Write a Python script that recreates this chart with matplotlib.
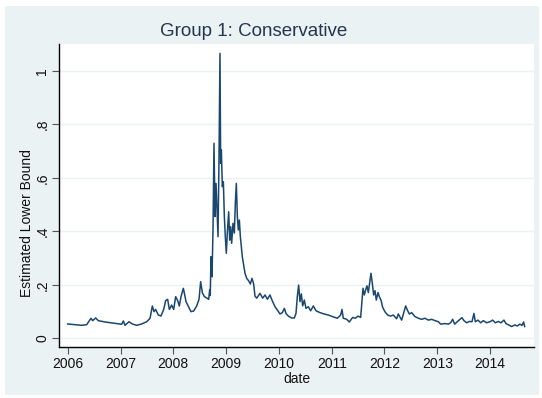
import matplotlib
matplotlib.use("Agg")
import matplotlib.pyplot as plt
from matplotlib.patches import Rectangle

plt.rcParams["font.family"] = ["Liberation Sans", "DejaVu Sans"]

# Estimated lower bound by date (decimal years)
dates = [
    2006.000, 2006.138, 2006.265, 2006.359, 2006.441, 2006.473, 2006.530, 2006.580,
    2006.706, 2006.896, 2007.022, 2007.054, 2007.085, 2007.161, 2007.224, 2007.306,
    2007.401, 2007.496, 2007.559, 2007.603, 2007.634, 2007.666, 2007.716, 2007.767,
    2007.818, 2007.855, 2007.893, 2007.925, 2007.969, 2008.007, 2008.045, 2008.083,
    2008.114, 2008.146, 2008.190, 2008.215, 2008.241, 2008.285, 2008.335, 2008.386,
    2008.443, 2008.487, 2008.518, 2008.550, 2008.588, 2008.632, 2008.670, 2008.689,
    2008.700, 2008.714, 2008.733, 2008.752, 2008.771, 2008.790, 2008.809, 2008.828,
    2008.847, 2008.866, 2008.884, 2008.897, 2008.910, 2008.929, 2008.948, 2008.967,
    2008.985, 2009.004, 2009.023, 2009.049, 2009.068, 2009.087, 2009.105, 2009.131,
    2009.156, 2009.175, 2009.194, 2009.213, 2009.232, 2009.251, 2009.270, 2009.288,
    2009.307, 2009.333, 2009.358, 2009.390, 2009.427, 2009.459, 2009.491, 2009.522,
    2009.547, 2009.579, 2009.642, 2009.693, 2009.737, 2009.781, 2009.831, 2009.869,
    2009.926, 2009.970, 2010.021, 2010.065, 2010.103, 2010.134, 2010.179, 2010.242,
    2010.292, 2010.324, 2010.349, 2010.374, 2010.400, 2010.425, 2010.450, 2010.482,
    2010.513, 2010.557, 2010.602, 2010.652, 2010.703, 2010.778, 2010.854, 2010.936,
    2011.018, 2011.107, 2011.170, 2011.195, 2011.220, 2011.284, 2011.334, 2011.397,
    2011.448, 2011.498, 2011.549, 2011.574, 2011.593, 2011.618, 2011.643, 2011.669,
    2011.694, 2011.719, 2011.744, 2011.769, 2011.795, 2011.820, 2011.845, 2011.877,
    2011.902, 2011.934, 2011.965, 2012.009, 2012.060, 2012.117, 2012.167, 2012.230,
    2012.262, 2012.325, 2012.369, 2012.401, 2012.432, 2012.470, 2012.515, 2012.578,
    2012.641, 2012.704, 2012.767, 2012.830, 2012.893, 2012.956, 2013.020, 2013.064,
    2013.146, 2013.209, 2013.253, 2013.291, 2013.329, 2013.379, 2013.430, 2013.468,
    2013.506, 2013.556, 2013.607, 2013.657, 2013.695, 2013.720, 2013.771, 2013.821,
    2013.872, 2013.935, 2013.998, 2014.049, 2014.099, 2014.156, 2014.206, 2014.263,
    2014.301, 2014.352, 2014.408, 2014.472, 2014.516, 2014.566, 2014.604, 2014.636,
    2014.655,
]
lower_bound = [
    0.0535, 0.051, 0.0485, 0.051, 0.0746, 0.066, 0.076, 0.066,
    0.061, 0.056, 0.0525, 0.0647, 0.0485, 0.062, 0.0535, 0.0485,
    0.0535, 0.062, 0.0746, 0.1207, 0.0996, 0.108, 0.087, 0.0834,
    0.108, 0.1407, 0.1457, 0.108, 0.1241, 0.108, 0.1557, 0.1407,
    0.1207, 0.1557, 0.1868, 0.1636, 0.1368, 0.1194, 0.0996, 0.102,
    0.1207, 0.1457, 0.2117, 0.1705, 0.1557, 0.1507, 0.1457, 0.1806,
    0.160, 0.305, 0.230, 0.405, 0.729, 0.455, 0.579, 0.480,
    0.380, 0.679, 1.065, 0.654, 0.704, 0.567, 0.585, 0.455,
    0.380, 0.318, 0.393, 0.473, 0.367, 0.417, 0.355, 0.430,
    0.393, 0.505, 0.579, 0.455, 0.405, 0.442, 0.380, 0.343,
    0.305, 0.274, 0.243, 0.224, 0.215, 0.203, 0.224, 0.203,
    0.158, 0.150, 0.168, 0.150, 0.162, 0.146, 0.162, 0.143,
    0.118, 0.106, 0.091, 0.096, 0.112, 0.093, 0.083, 0.076,
    0.076, 0.093, 0.156, 0.199, 0.137, 0.166, 0.121, 0.143,
    0.112, 0.118, 0.103, 0.121, 0.103, 0.096, 0.091, 0.087,
    0.081, 0.075, 0.087, 0.108, 0.075, 0.071, 0.061, 0.078,
    0.075, 0.083, 0.078, 0.143, 0.187, 0.162, 0.181, 0.196,
    0.171, 0.206, 0.243, 0.206, 0.162, 0.178, 0.143, 0.171,
    0.156, 0.143, 0.116, 0.099, 0.087, 0.083, 0.087, 0.073,
    0.091, 0.068, 0.099, 0.121, 0.106, 0.091, 0.096, 0.081,
    0.075, 0.071, 0.075, 0.068, 0.071, 0.066, 0.062, 0.053,
    0.055, 0.053, 0.058, 0.071, 0.053, 0.062, 0.071, 0.077,
    0.066, 0.058, 0.063, 0.062, 0.093, 0.062, 0.068, 0.058,
    0.066, 0.058, 0.062, 0.068, 0.058, 0.063, 0.058, 0.068,
    0.055, 0.050, 0.044, 0.050, 0.046, 0.053, 0.048, 0.061,
    0.044,
]

year_ticks = [2006, 2007, 2008, 2009, 2010, 2011, 2012, 2013, 2014]
value_ticks = [0, 0.2, 0.4, 0.6, 0.8, 1.0]
value_tick_labels = ["0", ".2", ".4", ".6", ".8", "1"]

W, H = 542, 398
fig = plt.figure(figsize=(W / 100, H / 100), dpi=100, facecolor="white")

# light blue-grey graph region behind the plot
fig.patches.append(Rectangle((5 / W, 3 / H), 534 / W, 389 / H,
                             transform=fig.transFigure, facecolor="#EAF2F3",
                             edgecolor="none", zorder=-10))

ax = fig.add_axes([59 / W, (H - 347) / H, 475 / W, 303 / H])
ax.set_zorder(1)
ax.set_facecolor("white")

ax.plot(dates, lower_bound, color="#1a476f", lw=1.1, zorder=3)

ax.set_xlim(2005.835, 2014.832)
ax.set_ylim(-0.0325, 1.100)

ax.set_xticks(year_ticks)
ax.set_xticklabels([str(y) for y in year_ticks], fontsize=10, color="#111111")
ax.set_yticks(value_ticks)
ax.set_yticklabels(value_tick_labels, fontsize=10, rotation=90, va="center",
                   color="#111111")

ax.grid(axis="y", color="#EAF2F3", lw=1.0, zorder=0)
ax.grid(axis="x", visible=False)

for side in ("top", "right"):
    ax.spines[side].set_visible(False)
for side in ("left", "bottom"):
    ax.spines[side].set_color("black")
    ax.spines[side].set_linewidth(1.0)

ax.tick_params(axis="both", direction="out", length=5, width=0.8,
               color="#555555", pad=2)

ax.set_xlabel("date", fontsize=10, color="#111111", labelpad=1)
ax.set_ylabel("Estimated Lower Bound", fontsize=10, color="#111111")
ax.yaxis.set_label_coords(-0.053, 0.41)

fig.text(254 / W, 1 - 31 / H, "Group 1: Conservative", fontsize=13.5,
         color="#253551", ha="center", va="center")

fig.savefig("out.png", dpi=100, facecolor="white")
